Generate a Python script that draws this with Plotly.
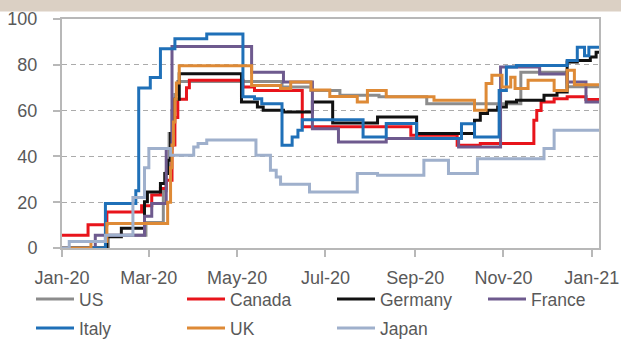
import plotly.graph_objects as go

# Government response stringency index, G7 countries, 2020
# Each series is given as the dates where the index changed and the new level.
us_dates = ["2020-01-01", "2020-02-02", "2020-02-28", "2020-03-11", "2020-03-13", "2020-03-15",
            "2020-03-17", "2020-03-19", "2020-03-21", "2020-06-01", "2020-06-21", "2020-07-11",
            "2020-08-07", "2020-09-09", "2020-11-13", "2020-12-15", "2021-01-06"]
us_vals = [0, 5.6, 11.1, 25, 33, 50, 60, 67, 72.7, 70.3, 68.8, 66.7, 66, 63, 76.8, 70.4, 70.4]

canada_dates = ["2020-01-01", "2020-01-19", "2020-02-01", "2020-02-25", "2020-03-03", "2020-03-09",
                "2020-03-13", "2020-03-17", "2020-03-19", "2020-03-21", "2020-03-27", "2020-03-29",
                "2020-05-05", "2020-05-13", "2020-06-15", "2020-08-29", "2020-09-30", "2020-10-16",
                "2020-11-22", "2020-11-24", "2020-11-27", "2020-12-06", "2020-12-15", "2020-12-28",
                "2021-01-06"]
canada_vals = [5.6, 10.2, 15.7, 18.5, 23.1, 26, 29.6, 45, 57, 65, 70, 73.2,
               70.3, 68.8, 52.9, 49.2, 44.9, 45.6, 55.8, 60, 63.8, 65.2, 66, 64.8, 64.8]

germany_dates = ["2020-01-01", "2020-02-01", "2020-02-11", "2020-02-27", "2020-02-29", "2020-03-09",
                 "2020-03-12", "2020-03-14", "2020-03-16", "2020-03-18", "2020-03-22", "2020-05-04",
                 "2020-05-15", "2020-05-19", "2020-06-02", "2020-06-22", "2020-07-06", "2020-08-06",
                 "2020-09-02", "2020-10-12", "2020-10-16", "2020-10-21", "2020-10-28", "2020-11-03",
                 "2020-11-10", "2020-11-29", "2020-12-08", "2020-12-15", "2020-12-22", "2020-12-31",
                 "2021-01-04", "2021-01-06"]
germany_vals = [0, 4.9, 8.6, 20.2, 24.5, 28.2, 32.5, 38.3, 50, 65, 76.1, 63.8,
                61.6, 60.1, 59.4, 63.8, 54.6, 57.2, 50, 55.8, 58.7, 60.1, 61.6, 63.8,
                64.5, 66.7, 68.1, 81.2, 81.9, 83.4, 85.5, 85.5]

france_dates = ["2020-01-01", "2020-01-24", "2020-02-27", "2020-03-03", "2020-03-13", "2020-03-17",
                "2020-05-11", "2020-06-02", "2020-06-22", "2020-07-10", "2020-08-12", "2020-10-01",
                "2020-10-30", "2020-11-26", "2020-12-15", "2020-12-28", "2021-01-06"]
france_vals = [0, 5.6, 13.9, 19.4, 43.5, 88, 76.8, 72.5, 52.1, 46.3, 47.8, 44.1,
               79, 76, 72.5, 63.8, 63.8]

italy_dates = ["2020-01-01", "2020-01-31", "2020-02-21", "2020-02-23", "2020-03-02", "2020-03-09",
               "2020-03-19", "2020-04-10", "2020-05-05", "2020-05-13", "2020-05-18", "2020-06-01",
               "2020-06-08", "2020-06-12", "2020-06-15", "2020-07-27", "2020-08-12", "2020-09-02",
               "2020-10-03", "2020-10-12", "2020-10-29", "2020-11-03", "2020-11-10", "2020-12-15",
               "2020-12-22", "2020-12-27", "2020-12-30", "2021-01-06"]
italy_vals = [0, 19.4, 25, 69.9, 74.5, 87, 91.4, 93.5, 66, 65.2, 63, 44.9,
              48.5, 51.4, 56, 48.5, 54.4, 47.8, 54.3, 48.5, 68.8, 79, 79.7, 81.9,
              87.7, 84, 87.7, 87.7]

uk_dates = ["2020-01-01", "2020-01-21", "2020-02-01", "2020-03-14", "2020-03-16", "2020-03-17",
            "2020-03-18", "2020-03-19", "2020-03-20", "2020-03-22", "2020-05-11", "2020-05-31",
            "2020-06-07", "2020-06-21", "2020-07-04", "2020-07-23", "2020-07-30", "2020-08-12",
            "2020-09-14", "2020-10-12", "2020-10-20", "2020-10-24", "2020-10-31", "2020-11-06",
            "2020-11-09", "2020-11-18", "2020-12-06", "2020-12-15", "2020-12-20", "2021-01-06"]
uk_vals = [0, 2.8, 10.7, 20, 35, 45, 55, 65, 72, 79.6, 71, 69.6,
           72.5, 69, 66.2, 63.8, 68.8, 66, 64.5, 60.1, 71.8, 75.4, 70.3, 74.6,
           69.6, 73.2, 68.8, 77.6, 71.3, 71.3]

japan_dates = ["2020-01-01", "2020-01-06", "2020-01-31", "2020-02-19", "2020-02-27", "2020-03-01",
               "2020-03-16", "2020-04-01", "2020-04-04", "2020-04-10", "2020-05-14", "2020-05-24",
               "2020-05-28", "2020-05-31", "2020-06-20", "2020-07-23", "2020-08-06", "2020-09-07",
               "2020-09-24", "2020-10-14", "2020-11-29", "2020-12-06", "2021-01-06"]
japan_vals = [0, 2.8, 5.6, 22, 35, 43.5, 40.5, 44.1, 45.6, 47.2, 40.5, 34,
              31, 27.8, 24.5, 32.5, 31.8, 38.3, 32.5, 39, 43.5, 51.4, 51.4]

tick_dates = ["2020-01-01", "2020-03-01", "2020-05-01", "2020-07-01", "2020-09-01",
              "2020-11-01", "2021-01-01"]
tick_labels = ["Jan-20", "Mar-20", "May-20", "Jul-20", "Sep-20", "Nov-20", "Jan-21"]
y_ticks = [0, 20, 40, 60, 80, 100]

# name, dates, values, colour, legend column, legend row
series = [
    ("US", us_dates, us_vals, "#8c8c8c", 0, 0),
    ("Canada", canada_dates, canada_vals, "#e8141b", 1, 0),
    ("Germany", germany_dates, germany_vals, "#111111", 2, 0),
    ("France", france_dates, france_vals, "#6e5a8e", 3, 0),
    ("Italy", italy_dates, italy_vals, "#1f70b8", 0, 1),
    ("UK", uk_dates, uk_vals, "#de8a36", 1, 1),
    ("Japan", japan_dates, japan_vals, "#9fb0cc", 2, 1),
]

FONT = "Liberation Sans, Arial, sans-serif"
TEXT = "#595959"
AXIS = "#b8b8b8"

# legend layout: each entry gets its own small legend box
col_x = [31, 182, 332, 483]
row_y = [299, 328]
legend_common = dict(
    orientation="h", xref="container", yref="container",
    xanchor="left", yanchor="middle", itemwidth=38,
    font=dict(family=FONT, size=17.5, color=TEXT),
    bgcolor="rgba(0,0,0,0)", borderwidth=0,
    itemclick=False, itemdoubleclick=False,
)

fig = go.Figure()
legends = {}
for i, (name, dates, vals, color, col, row) in enumerate(series):
    key = "legend" if i == 0 else f"legend{i + 1}"
    fig.add_trace(go.Scatter(
        x=dates, y=vals, name=name, mode="lines",
        line=dict(color=color, width=3, shape="hv"),
        legend=key,
    ))
    legends[key] = dict(x=col_x[col] / 621, y=1 - row_y[row] / 339, **legend_common)

fig.update_layout(
    width=621, height=339,
    margin=dict(l=62, r=22, t=19, b=91, autoexpand=False),
    paper_bgcolor="white", plot_bgcolor="white",
    font=dict(family=FONT, size=18, color=TEXT),
    showlegend=True,
    xaxis=dict(
        type="date", range=["2020-01-01", "2021-01-06"],
        tickvals=tick_dates, ticktext=tick_labels,
        ticks="outside", ticklen=7, tickwidth=1.5, tickcolor=AXIS,
        showgrid=False, zeroline=False,
        showline=True, linecolor=AXIS, linewidth=2, mirror=True,
        ticklabelstandoff=5,
        tickfont=dict(family=FONT, size=18, color=TEXT),
    ),
    yaxis=dict(
        range=[0, 100], tickvals=y_ticks,
        ticks="outside", ticklen=7, tickwidth=1.5, tickcolor=AXIS,
        showgrid=True, gridcolor="#ababab", gridwidth=1.3, griddash="5px,4px",
        zeroline=False,
        showline=True, linecolor=AXIS, linewidth=2, mirror=True,
        ticklabelstandoff=12,
        tickfont=dict(family=FONT, size=18, color=TEXT),
    ),
    shapes=[dict(
        type="rect", xref="paper", yref="paper",
        x0=-0.2, x1=1.1, y0=1 + 7.5 / 229, y1=1 + 19 / 229,
        fillcolor="#dbd0c4", line=dict(width=0), layer="above",
    )],
    **legends,
)

fig.write_html("out.html")
